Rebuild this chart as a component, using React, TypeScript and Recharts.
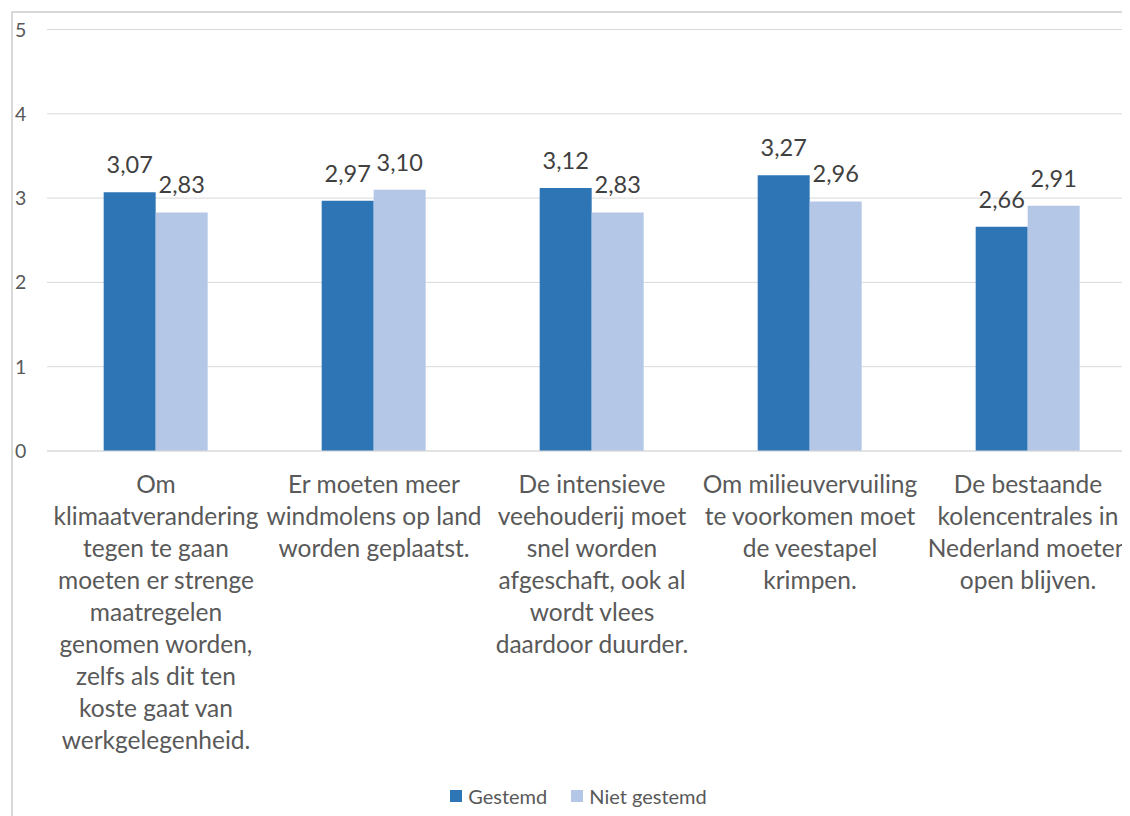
import { BarChart, Bar, XAxis, YAxis, CartesianGrid, Legend, LabelList } from "recharts"

const categories = [
  "Om\nklimaatverandering\ntegen te gaan\nmoeten er strenge\nmaatregelen\ngenomen worden,\nzelfs als dit ten\nkoste gaat van\nwerkgelegenheid.",
  "Er moeten meer\nwindmolens op land\nworden geplaatst.",
  "De intensieve\nveehouderij moet\nsnel worden\nafgeschaft, ook al\nwordt vlees\ndaardoor duurder.",
  "Om milieuvervuiling\nte voorkomen moet\nde veestapel\nkrimpen.",
  "De bestaande\nkolencentrales in\nNederland moeten\nopen blijven.",
]
const gestemd = [3.07, 2.97, 3.12, 3.27, 2.66]
const nietGestemd = [2.83, 3.1, 2.83, 2.96, 2.91]
const yTicks = [0, 1, 2, 3, 4, 5]

const series = [
  { key: "gestemd", name: "Gestemd", color: "#2E75B6" },
  { key: "nietGestemd", name: "Niet gestemd", color: "#B4C7E7" },
]

const data = categories.map((c, i) => ({
  category: c,
  gestemd: gestemd[i],
  nietGestemd: nietGestemd[i],
}))

const FONT = "Lato, 'Open Sans', sans-serif"
const TEXT = "#595959"

const fmt = (v: any) => Number(v).toFixed(2).replace(".", ",")

const CategoryTick = ({ x, y, payload }: any) => {
  const lines = String(payload.value).split("\n")
  return (
    <text x={x} y={y} textAnchor="middle" fill={TEXT} fontSize={24.5} fontFamily={FONT}>
      {lines.map((l, i) => (
        <tspan key={i} x={x} dy={i === 0 ? 34 : 32}>
          {l}
        </tspan>
      ))}
    </text>
  )
}

const ValueTick = ({ y, payload }: any) => (
  <text x={7} y={y} dy={7} fill={TEXT} fontSize={19.5} fontFamily={FONT}>
    {payload.value}
  </text>
)

const LegendContent = () => (
  <div
    style={{
      display: "flex",
      justifyContent: "center",
      alignItems: "center",
      paddingLeft: 12,
      fontFamily: FONT,
      fontSize: 20,
      color: TEXT,
      height: 40,
    }}
  >
    {series.map((s) => (
      <div key={s.key} style={{ display: "flex", alignItems: "center", margin: "0 12px" }}>
        <span style={{ width: 12, height: 12, background: s.color, marginRight: 6, display: "inline-block" }} />
        <span>{s.name}</span>
      </div>
    ))}
  </div>
)

export default function App() {
  return (
    <div style={{ position: "relative", width: 1122, height: 808, overflow: "hidden", background: "#fff" }}>
      <div
        style={{
          position: "absolute",
          left: 3,
          top: 3,
          width: 1200,
          height: 900,
          borderLeft: "2px solid #D9D9D9",
          borderTop: "2px solid #D9D9D9",
        }}
      />
      <BarChart
        width={1129}
        height={808}
        data={data}
        margin={{ top: 21.5, right: 0, left: 0, bottom: 0 }}
        barCategoryGap="26%"
        barGap={0}
      >
        <CartesianGrid vertical={false} stroke="#D9D9D9" />
        <XAxis
          dataKey="category"
          tickLine={false}
          axisLine={{ stroke: "#D9D9D9" }}
          height={325}
          interval={0}
          tick={<CategoryTick />}
        />
        <YAxis
          domain={[0, 5]}
          ticks={yTicks}
          width={39}
          axisLine={false}
          tickLine={false}
          tick={<ValueTick />}
        />
        <Legend verticalAlign="bottom" height={40} content={<LegendContent />} />
        {series.map((s) => (
          <Bar key={s.key} dataKey={s.key} name={s.name} fill={s.color} isAnimationActive={false}>
            <LabelList
              dataKey={s.key}
              position="top"
              offset={19}
              formatter={fmt}
              fill="#404040"
              fontSize={23.5}
              fontFamily={FONT}
            />
          </Bar>
        ))}
      </BarChart>
    </div>
  )
}
